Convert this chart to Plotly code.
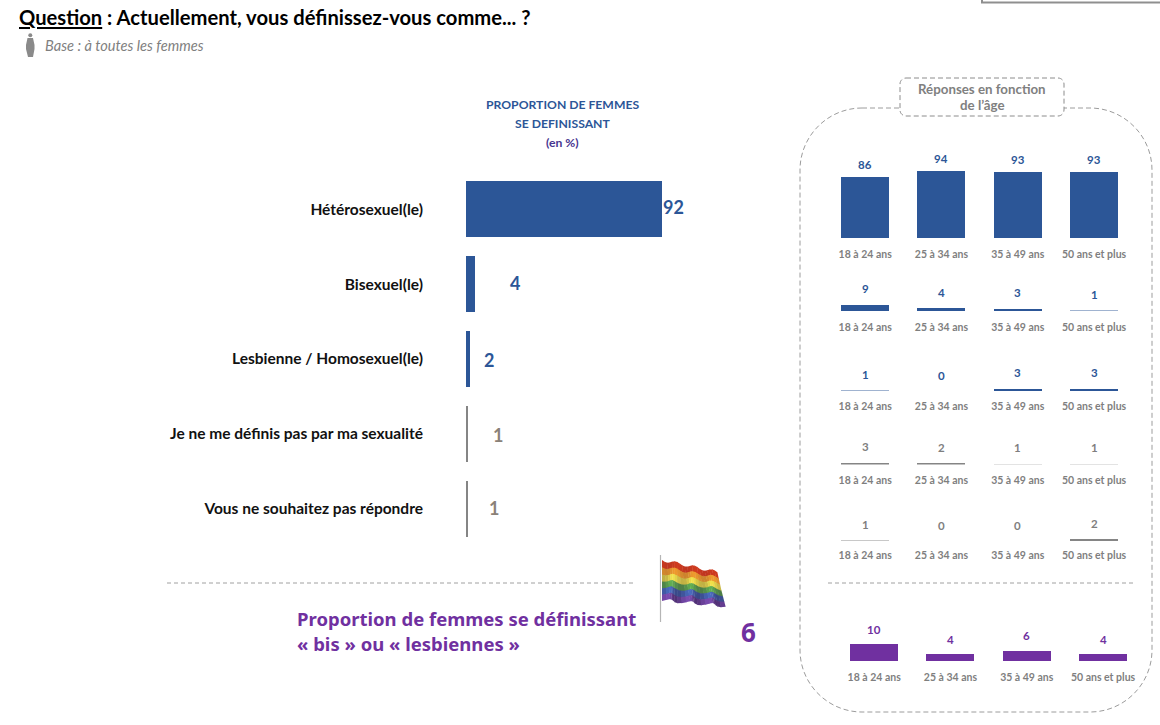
import math
import plotly.graph_objects as go

# ---------- data ----------
MAIN_CATEGORIES = ["Hétérosexuel(le)", "Bisexuel(le)", "Lesbienne / Homosexuel(le)",
                   "Je ne me définis pas par ma sexualité", "Vous ne souhaitez pas répondre"]
MAIN_VALUES = [92, 4, 2, 1, 1]
AGE_LABELS = ["18 à 24 ans", "25 à 34 ans", "35 à 49 ans", "50 ans et plus"]
HETERO = [86, 94, 93, 93]
BISEXUAL = [9, 4, 3, 1]
LESBIAN = [1, 0, 3, 3]
NOT_DEFINED = [3, 2, 1, 1]
NO_ANSWER = [1, 0, 0, 2]
BIS_OR_LESBIAN = [10, 4, 6, 4]
BIS_OR_LESBIAN_TOTAL = 6

# ---------- style / layout ----------
W, H = 1160, 725
BLUE, GREY, PURPLE = "#2C5697", "#858585", "#7030A0"
LABEL_GREY = "#8A8178"
FONT = "Lato"


def px(x):
    return x / W


def py(y):
    return 1 - y / H


def blend(c, t, target="#FFFFFF"):
    a = [int(c[i:i + 2], 16) for i in (1, 3, 5)]
    b = [int(target[i:i + 2], 16) for i in (1, 3, 5)]
    return "#%02X%02X%02X" % tuple(round(p + (q - p) * t) for p, q in zip(a, b))


fig = go.Figure()
annotations, shapes = [], []
layout = {}


def text(x, y, s, size, color, xanchor="left", bold=True, italic=False, family=FONT):
    annotations.append(dict(
        xref="paper", yref="paper", x=px(x), y=py(y), text=s, showarrow=False,
        xanchor=xanchor, yanchor="middle", align=xanchor if xanchor != "middle" else "center",
        font=dict(size=size, color=color, family=family,
                  weight="bold" if bold else "normal",
                  style="italic" if italic else "normal")))


def rounded(x0, y0, x1, y1, r):
    k = 0.45 * r
    return (f"M{px(x0 + r)},{py(y0)} L{px(x1 - r)},{py(y0)} "
            f"C{px(x1 - k)},{py(y0)} {px(x1)},{py(y0 + k)} {px(x1)},{py(y0 + r)} "
            f"L{px(x1)},{py(y1 - r)} "
            f"C{px(x1)},{py(y1 - k)} {px(x1 - k)},{py(y1)} {px(x1 - r)},{py(y1)} "
            f"L{px(x0 + r)},{py(y1)} "
            f"C{px(x0 + k)},{py(y1)} {px(x0)},{py(y1 - k)} {px(x0)},{py(y1 - r)} "
            f"L{px(x0)},{py(y0 + r)} "
            f"C{px(x0)},{py(y0 + k)} {px(x0 + k)},{py(y0)} {px(x0 + r)},{py(y0)} Z")


def dashed_line(x0, x1, y):
    shapes.append(dict(type="line", xref="paper", yref="paper", x0=px(x0), x1=px(x1),
                       y0=py(y), y1=py(y), line=dict(color="#A0A0A0", width=1, dash="4px,3px")))


# ---------- main chart ----------
MAIN_XSHIFT = [12, 40, 19, 30, 26]
MAIN_YSHIFT = [2, 1, -1, -1, 1]
MAIN_COLORS = [BLUE, BLUE, BLUE, GREY, GREY]
fig.add_trace(go.Bar(y=MAIN_CATEGORIES, x=MAIN_VALUES, orientation="h",
                     marker=dict(color=MAIN_COLORS, line=dict(width=0)),
                     width=0.75, showlegend=False, hoverinfo="skip"))
layout["xaxis"] = dict(domain=[px(466), px(466 + 100 * 2.13)], range=[0, 100], visible=False, fixedrange=True)
layout["yaxis"] = dict(domain=[py(546), py(172)], autorange=False, range=[4.5, -0.5], type="category",
                       categoryorder="array", categoryarray=MAIN_CATEGORIES,
                       showline=False, showgrid=False, zeroline=False, ticks="",
                       ticklabelstandoff=42,
                       tickfont=dict(size=15.5, color="#111111", family=FONT, weight="bold"))
for i, (cat, v) in enumerate(zip(MAIN_CATEGORIES, MAIN_VALUES)):
    annotations.append(dict(xref="x", yref="y", x=v, y=cat, text=str(v), showarrow=False,
                            xshift=MAIN_XSHIFT[i], yshift=MAIN_YSHIFT[i], xanchor="center", yanchor="middle",
                            font=dict(size=18, family=FONT, weight="bold",
                                      color=BLUE if i < 3 else LABEL_GREY)))

# ---------- small age charts ----------
# values, colour, baseline px, left px, px per unit, tick standoff, value-label lift
ROWS = [
    (HETERO, BLUE, 238, 827, 0.71, 8, 12.5),
    (BISEXUAL, BLUE, 311, 827, 0.71, 8, 16),
    (LESBIAN, BLUE, 391, 827, 0.71, 7, 16),
    (NOT_DEFINED, GREY, 464.5, 827, 0.71, 8, 16),
    (NO_ANSWER, GREY, 541, 827, 0.71, 6, 16),
    (BIS_OR_LESBIAN, PURPLE, 661, 836, 1.7, 8, 15),
]
PITCH = 76.3
for n, (vals, color, base, left, scale, standoff, lift) in enumerate(ROWS, start=2):
    colors = [blend(color, 0.55) if v == 1 else color for v in vals]
    fig.add_trace(go.Bar(x=AGE_LABELS, y=vals, xaxis=f"x{n}", yaxis=f"y{n}", width=0.63,
                         marker=dict(color=colors, line=dict(width=0)),
                         showlegend=False, hoverinfo="skip"))
    layout[f"xaxis{n}"] = dict(domain=[px(left), px(left + 4 * PITCH)], anchor=f"y{n}",
                               type="category", range=[-0.5, 3.5], fixedrange=True,
                               showline=False, showgrid=False, zeroline=False, ticks="",
                               ticklabelstandoff=standoff,
                               tickfont=dict(size=10.5, color="#7F7F7F", family=FONT, weight="bold"))
    layout[f"yaxis{n}"] = dict(domain=[py(base), py(base - 100 * scale * (1 if n < 7 else 0.5))],
                               anchor=f"x{n}", range=[0, 100 if n < 7 else 50], visible=False, fixedrange=True)
    for cat, v in zip(AGE_LABELS, vals):
        annotations.append(dict(xref=f"x{n}", yref=f"y{n}", x=cat, y=v, text=str(v), showarrow=False,
                                yshift=lift, xanchor="center", yanchor="middle",
                                font=dict(size=11.5, family=FONT, weight="bold",
                                          color=PURPLE if color == PURPLE else (BLUE if color == BLUE else "#7F7F7F"))))

# ---------- panel frames ----------
shapes.append(dict(type="path", xref="paper", yref="paper", path=rounded(800, 108, 1152, 712, 62),
                   line=dict(color="#9C9C9C", width=1, dash="5px,3px"), fillcolor="rgba(0,0,0,0)"))
shapes.append(dict(type="path", xref="paper", yref="paper", path=rounded(900, 78, 1064, 116, 6),
                   line=dict(color="#8C8C8C", width=1, dash="5px,3px"), fillcolor="#FFFFFF"))
dashed_line(167, 636, 583)
dashed_line(828, 1134, 583)

# top-right page fragment
shapes.append(dict(type="rect", xref="paper", yref="paper", x0=px(982), x1=px(1162), y0=py(2.5), y1=py(-2),
                   line=dict(color="#8F8F8F", width=2), fillcolor="#FFFFFF"))

# ---------- woman pictogram ----------
ICON = "#8A8A8A"
shapes.append(dict(type="circle", xref="paper", yref="paper", x0=px(28.3), x1=px(32.3), y0=py(37.3), y1=py(33.3),
                   line=dict(width=0), fillcolor=ICON))
shapes.append(dict(type="path", xref="paper", yref="paper", line=dict(width=0), fillcolor=ICON,
                   path="M{},{} L{},{} L{},{} L{},{} L{},{} L{},{} L{},{} L{},{} Z".format(
                       px(27.5), py(38), px(33), py(38), px(34.5), py(45), px(34.5), py(49),
                       px(33), py(57), px(28), py(57), px(26), py(49), px(26), py(45))))

# ---------- rainbow flag (decorative) ----------
STRIPES = ["#CF3A1E", "#EE9A2D", "#F2E24A", "#62B052", "#4A6CC0", "#7A4CB0"]
shapes.append(dict(type="line", xref="paper", yref="paper", x0=px(660.5), x1=px(660.5), y0=py(555), y1=py(622),
                   line=dict(color="#B5B5B5", width=1.2)))


def flag_pt(u, v):
    xt, xb = 662 + 55 * u, 662 + 63 * u
    yt, yb = 560 + 12 * u, 600 + 6 * u
    wave = 1.6 * math.sin(u * 6.0 * math.pi + v * 2.5)
    return xt + (xb - xt) * v + 2 * v * math.sin(u * 6 * math.pi), yt + (yb - yt) * v + wave


SLICES = 22
for s, col in enumerate(STRIPES):
    for j in range(SLICES):
        u0, u1 = j / SLICES, (j + 1.15) / SLICES
        v0, v1 = s / 6, (s + 1.1) / 6 if s < 5 else 1
        pts = [flag_pt(u0, v0), flag_pt(u1, v0), flag_pt(u1, v1), flag_pt(u0, v1)]
        shade = 0.5 + 0.5 * math.sin((u0 + 0.25 * (s / 6)) * 6 * math.pi)
        fill = blend(col, 0.45 * shade * (0.2 + s / 6), "#201030")
        path = "M" + " L".join(f"{px(a)},{py(b)}" for a, b in pts) + " Z"
        shapes.append(dict(type="path", xref="paper", yref="paper", path=path, line=dict(width=0), fillcolor=fill))

# ---------- texts ----------
text(17, 17, "<u>Question</u> : Actuellement, vous définissez-vous comme... ?", 20.2, "#000000")
text(43, 46, "Base : à toutes les femmes", 14.6, "#7F7F7F", bold=False, italic=True)
text(562, 104, "PROPORTION DE FEMMES", 12.2, BLUE, "center")
text(562, 123, "SE DEFINISSANT", 12.2, BLUE, "center")
text(562, 142, "(en %)", 12.2, "#46358F", "center")
text(982, 89, "Réponses en fonction", 13.3, "#808080", "center")
text(982, 105, "de l’âge", 13.3, "#808080", "center")
text(295, 618, "Proportion de femmes se définissant", 18.5, PURPLE, family="Noto Sans")
text(295, 643, "« bis » ou « lesbiennes »", 18.5, PURPLE, family="Noto Sans")
text(748, 632, str(BIS_OR_LESBIAN_TOTAL), 26, PURPLE, "center", family="Noto Sans")

fig.update_layout(width=W, height=H, margin=dict(l=0, r=0, t=0, b=0), autosize=False,
                  paper_bgcolor="#FFFFFF", plot_bgcolor="#FFFFFF", showlegend=False, bargap=0,
                  annotations=annotations, shapes=shapes, **layout)
fig.write_html("out.html", config={"displayModeBar": False},
               post_script="document.body.style.margin='0';")
